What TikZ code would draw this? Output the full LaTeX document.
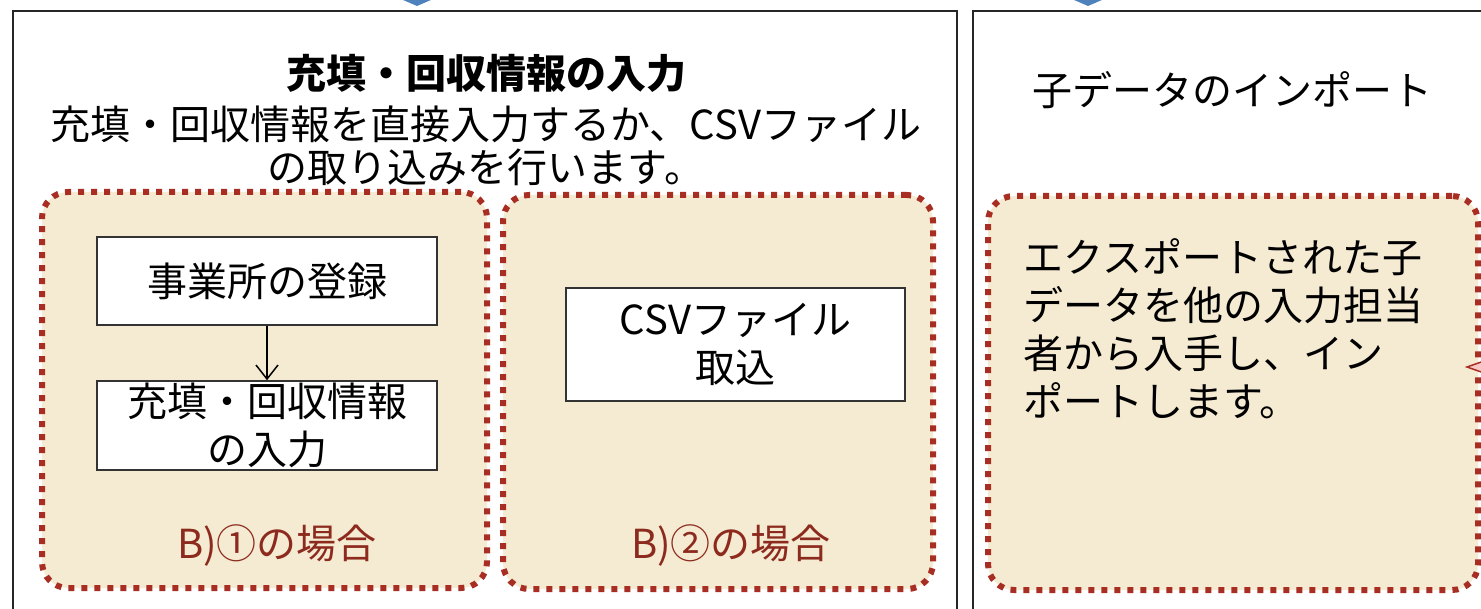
\documentclass[tikz,border=0pt]{standalone}
\usepackage{fontspec}
\newfontfamily\jp{Noto Sans CJK JP}
\usetikzlibrary{arrows.meta}
\definecolor{beige}{HTML}{F5EBD2}
\definecolor{dotred}{HTML}{A82D23}
\definecolor{labred}{HTML}{8C2A1E}
\definecolor{arrowblue}{HTML}{4F81BD}
\definecolor{tippink}{HTML}{F6C9C4}
\begin{document}
\begin{tikzpicture}[x=1pt,y=-1pt,
  font=\jp\fontsize{40pt}{48pt}\selectfont,
  panel/.style={draw=black!85, line width=2pt},
  casebox/.style={draw=dotred, line width=6pt, dash pattern=on 6pt off 7pt,
    fill=beige, rounded corners=26pt, inner sep=0pt},
  stepbox/.style={draw=black!80, line width=1.5pt, fill=white, inner sep=0pt,
    align=center, font=\jp\fontsize{40pt}{48pt}\selectfont},
  caselabel/.style={text=labred, font=\jp\fontsize{40pt}{48pt}\selectfont},
  flow/.style={line width=1.5pt, draw=black, -{Straight Barb[length=14pt,width=22pt,line width=1.5pt]}},
  bluetip/.style={fill=arrowblue, draw=none}
]
\useasboundingbox (0,0) rectangle (1481,609);
\clip (0,0) rectangle (1481,609);

% panels
\draw[panel] (13,11) rectangle (957,650);
\draw[panel] (973,11) rectangle (1520,650);

% blue arrow tips from above
\fill[bluetip] (380,-10) -- (454,-10) -- (417,6) -- cycle;
\fill[bluetip] (1051,-10) -- (1125,-10) -- (1088,6) -- cycle;

% left panel texts
\node[font=\jp\bfseries\fontsize{40pt}{48pt}\selectfont] (title1) at (486,73) {充填・回収情報の入力};
\node[align=center, font=\jp\fontsize{40pt}{43pt}\selectfont] (desc1) at (486,146)
  {充填・回収情報を直接入力するか、CSVファイル\\の取り込みを行います。};

% case boxes
\node[casebox, minimum width=445pt, minimum height=396pt] (caseA) at (264.5,390) {};
\node[casebox, minimum width=430pt, minimum height=394pt] (caseB) at (718,392) {};
\node[casebox, minimum width=490pt, minimum height=394pt] (caseC) at (1233,393) {};

% steps in case A
\node[stepbox, minimum width=340pt, minimum height=88pt] (s1) at (267,281) {事業所の登録};
\node[stepbox, minimum width=340pt, minimum height=89pt] (s2) at (267,425.5) {充填・回収情報\\の入力};
\draw[flow] (s1.south) -- (s2.north);

% step in case B
\node[stepbox, minimum width=339pt, minimum height=113pt] (s3) at (735.5,344.5) {CSVファイル\\取込};

% case labels
\node[caselabel] (labA) at (277,545) {B)①の場合};
\node[caselabel] (labB) at (731,545) {B)②の場合};

% right panel
\node (title2) at (1232,90) {子データのインポート};
\node[anchor=north west, align=left, inner sep=0pt, font=\jp\fontsize{40pt}{48pt}\selectfont] (descC) at (1023,238)
  {エクスポートされた子\\データを他の入力担当\\者から入手し、イン\\ポートします。};

% small arrow tip at right edge
\coordinate (tipC) at (1467,367);
\draw[dotred, fill=tippink, line width=1.5pt] (tipC) -- (1484,361) -- (1484,373) -- cycle;
\end{tikzpicture}
\end{document}
